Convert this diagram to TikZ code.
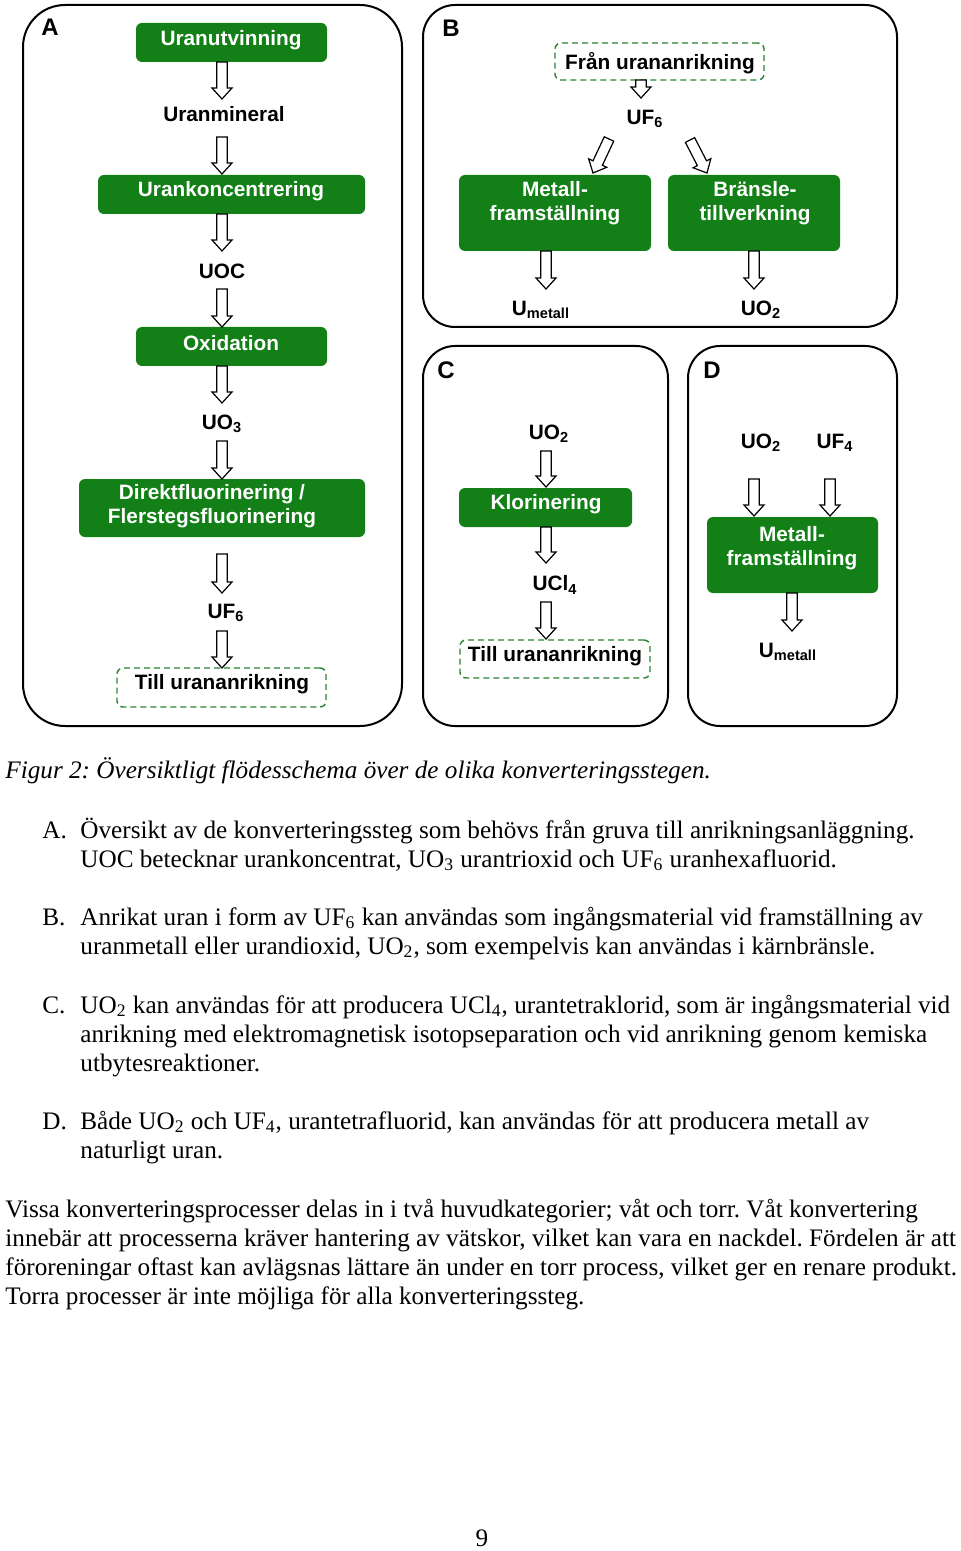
\documentclass[tikz,border=0pt]{standalone}
\usepackage{fontspec}
\setmainfont{Liberation Serif}
\newfontfamily\arl{Liberation Sans}
\usetikzlibrary{calc}
\frenchspacing
\definecolor{boxgreen}{RGB}{18,128,22}
\definecolor{dashgreen}{RGB}{40,130,50}
\newcommand\barrow[2]{%
  \coordinate (ba-a) at #1;
  \coordinate (ba-b) at #2;
  \coordinate (ba-h) at ($(ba-b)!5.5pt!(ba-a)$);
  \draw[blockarr] ($(ba-a)!2.6pt!90:(ba-b)$) -- ($(ba-h)!2.6pt!-90:(ba-a)$)
     -- ($(ba-h)!5pt!-90:(ba-a)$) -- (ba-b) -- ($(ba-h)!5pt!90:(ba-a)$)
     -- ($(ba-h)!2.6pt!90:(ba-a)$) -- ($(ba-a)!2.6pt!-90:(ba-b)$) -- cycle;}
\tikzset{
  panelbig/.style={draw=black, line width=1pt, rounded corners=21pt},
  panel/.style={draw=black, line width=1pt, rounded corners=16pt},
  gbox/.style={fill=boxgreen, rounded corners=3pt, inner sep=0pt},
  dbox/.style={draw=dashgreen, dash pattern=on 3pt off 2pt, line width=0.7pt, rounded corners=3pt, inner sep=0pt},
  wt/.style={text=white, font=\arl\bfseries\fontsize{10.4}{12}\selectfont, align=center, inner sep=0pt},
  bt/.style={text=black, font=\arl\bfseries\fontsize{10.4}{12}\selectfont, align=center, inner sep=0pt},
  lab/.style={font=\arl\bfseries\fontsize{12}{14}\selectfont, inner sep=0pt},
  blockarr/.style={draw=black, fill=white, line width=0.6pt, line join=miter},
  body/.style={font=\fontsize{12.6}{14.5}\selectfont, anchor=base west, inner sep=0pt},
}
\begin{document}
\begin{tikzpicture}[x=0.5pt,y=-0.5pt]
\fill[white] (0,0) rectangle (960,1551);
\useasboundingbox (0,0) rectangle (960,1551);
% panels
\draw[panelbig] (23,5) rectangle (402,726);
\draw[panel] (423,5) rectangle (897,327);
\draw[panel] (423,346) rectangle (668,726);
\draw[panel] (688,346) rectangle (897,726);
\node[lab] (labA) at (50,27) {A};
\node[lab] (labB) at (451,28) {B};
\node[lab] (labC) at (446,370) {C};
\node[lab] (labD) at (712,370) {D};
% ---- panel A
\node[gbox, minimum width=95.5pt, minimum height=19.5pt] (bA1) at (231.5,42.5) {};
\node[wt] (tA1) at (231,40) {Uranutvinning};
\node[bt] (tA2) at (224,114) {Uranmineral};
\node[gbox, minimum width=133.5pt, minimum height=19.5pt] (bA3) at (231.5,194.5) {};
\node[wt] (tA3) at (231,191) {Urankoncentrering};
\node[bt] (tA4) at (222,271) {UOC};
\node[gbox, minimum width=95.5pt, minimum height=19.5pt] (bA5) at (231.5,346.5) {};
\node[wt] (tA5) at (231,343) {Oxidation};
\node[bt] (tA6) at (222,424) {UO\textsubscript{3}};
\node[gbox, minimum width=143pt, minimum height=29pt] (bA7) at (222,508) {};
\node[wt] (tA7) at (212,506) {Direktfluorinering /\\Flerstegsfluorinering};
\node[bt] (tA8) at (226,613) {UF\textsubscript{6}};
\node[dbox, minimum width=104.5pt, minimum height=19.5pt] (bA9) at (221.5,687.5) {};
\node[bt] (tA9) at (222,684) {Till urananrikning};
\barrow{(222,62)}{(222,99)}
\barrow{(222,137)}{(222,174)}
\barrow{(222,214)}{(222,251)}
\barrow{(222,289)}{(222,327)}
\barrow{(222,366)}{(222,403)}
\barrow{(222,441)}{(222,479)}
\barrow{(222,554)}{(222,593)}
\barrow{(222,631)}{(222,668)}
% ---- panel B
\node[dbox, minimum width=104.5pt, minimum height=18.5pt] (bB0) at (659.5,61.5) {};
\node[bt] (tB0) at (660,63) {Från urananrikning};
\node[bt] (tB1) at (645,119) {UF\textsubscript{6}};
\node[gbox, minimum width=96pt, minimum height=38pt] (bB2) at (555,213) {};
\node[wt] (tB2) at (555,203) {Metall-\\framställning};
\node[gbox, minimum width=86pt, minimum height=38pt] (bB3) at (754,213) {};
\node[wt] (tB3) at (755,203) {Bränsle-\\tillverkning};
\node[bt] (tB4) at (541,310) {U\textsubscript{metall}};
\node[bt] (tB5) at (761,310) {UO\textsubscript{2}};
\barrow{(641,80)}{(641,98)}
\barrow{(609,139)}{(593,173)}
\barrow{(690,140)}{(707,173)}
\barrow{(546,251)}{(546,289)}
\barrow{(754,251)}{(754,289)}
% ---- panel C
\node[bt] (tC1) at (549,434) {UO\textsubscript{2}};
\node[gbox, minimum width=86.5pt, minimum height=19.5pt] (bC2) at (545.5,507.5) {};
\node[wt] (tC2) at (546,504) {Klorinering};
\node[bt] (tC3) at (555,585) {UCl\textsubscript{4}};
\node[dbox, minimum width=95pt, minimum height=19pt] (bC4) at (555,659) {};
\node[bt] (tC4) at (555,656) {Till urananrikning};
\barrow{(546,451)}{(546,487)}
\barrow{(546,527)}{(546,563)}
\barrow{(546,602)}{(546,639)}
% ---- panel D
\node[bt] (tD1) at (761,443) {UO\textsubscript{2}};
\node[bt] (tD2) at (835,443) {UF\textsubscript{4}};
\node[gbox, minimum width=85.5pt, minimum height=38pt] (bD3) at (792.5,555) {};
\node[wt] (tD3) at (792,548.5) {Metall-\\framställning};
\node[bt] (tD4) at (788,652) {U\textsubscript{metall}};
\barrow{(754,479)}{(754,516)}
\barrow{(830,479)}{(830,516)}
\barrow{(792,593)}{(792,631)}
% ---- text
\node[body] (cap) at (5,778) {\itshape Figur 2: Översiktligt flödesschema över de olika konverteringsstegen.};
\node[body] (iA) at (42,838) {A.};
\node[body] (iA1) at (80,838) {Översikt av de konverteringssteg som behövs från gruva till anrikningsanläggning.};
\node[body] (iA2) at (80,867) {UOC betecknar urankoncentrat, UO\textsubscript{3} urantrioxid och UF\textsubscript{6} uranhexafluorid.};
\node[body] (iB) at (42,925) {B.};
\node[body] (iB1) at (80,925) {Anrikat uran i form av UF\textsubscript{6} kan användas som ingångsmaterial vid framställning av};
\node[body] (iB2) at (80,954) {uranmetall eller urandioxid, UO\textsubscript{2}, som exempelvis kan användas i kärnbränsle.};
\node[body] (iC) at (42,1013) {C.};
\node[body] (iC1) at (80,1013) {UO\textsubscript{2} kan användas för att producera UCl\textsubscript{4}, urantetraklorid, som är ingångsmaterial vid};
\node[body] (iC2) at (80,1042) {anrikning med elektromagnetisk isotopseparation och vid anrikning genom kemiska};
\node[body] (iC3) at (80,1071) {utbytesreaktioner.};
\node[body] (iD) at (42,1129) {D.};
\node[body] (iD1) at (80,1129) {Både UO\textsubscript{2} och UF\textsubscript{4}, urantetrafluorid, kan användas för att producera metall av};
\node[body] (iD2) at (80,1158) {naturligt uran.};
\node[body] (p1) at (5,1217) {Vissa konverteringsprocesser delas in i två huvudkategorier; våt och torr. Våt konvertering};
\node[body] (p2) at (5,1246) {innebär att processerna kräver hantering av vätskor, vilket kan vara en nackdel. Fördelen är att};
\node[body] (p3) at (5,1275) {föroreningar oftast kan avlägsnas lättare än under en torr process, vilket ger en renare produkt.};
\node[body] (p4) at (5,1304) {Torra processer är inte möjliga för alla konverteringssteg.};
\node[body, anchor=base] (pg) at (482,1546) {9};
\end{tikzpicture}
\end{document}
